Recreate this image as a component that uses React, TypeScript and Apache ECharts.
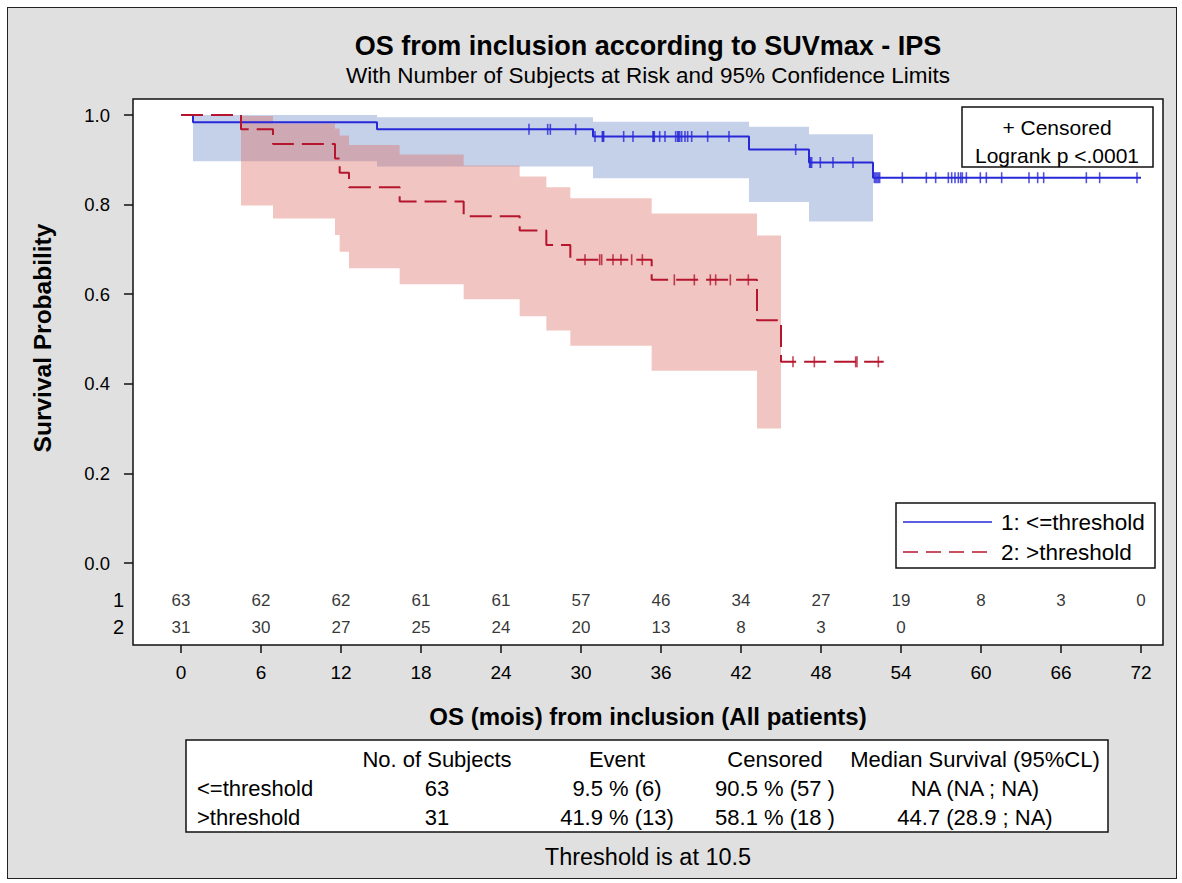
import React, { useEffect, useRef } from 'react';
import * as echarts from 'echarts';

const FONT = "'Liberation Sans', Arial, Helvetica, sans-serif";

// ---- texts ----
const titleText = 'OS from inclusion according to SUVmax - IPS';
const subtitleText = 'With Number of Subjects at Risk and 95% Confidence Limits';
const xAxisTitle = 'OS (mois) from inclusion (All patients)';
const yAxisTitle = 'Survival Probability';
const groupNames = ['1: <=threshold', '2: >threshold'];
const censorLegendText = '+ Censored';
const logrankText = 'Logrank p <.0001';
const footnoteText = 'Threshold is at 10.5';

// ---- axes ----
const xTicks = [0, 6, 12, 18, 24, 30, 36, 42, 48, 54, 60, 66, 72];
const yTicks = [0, 0.2, 0.4, 0.6, 0.8, 1.0];

// ---- group 1 (<= threshold) ----
const g1EventTimes = [0.9, 14.7, 30.9, 42.6, 47.1, 51.9];
const g1Survival = [0.984, 0.968, 0.952, 0.923, 0.894, 0.86];
const g1EndTime = 72.0;
const g1CensorTimes = [
  26.1, 27.5, 27.7, 29.6,
  31.05, 31.6, 31.65, 31.7, 33.2, 33.9, 35.4, 35.45, 35.5, 35.9,
  36.3, 37.1, 37.25, 37.3, 37.4, 37.55, 37.8, 38.0, 38.3, 39.5, 41.1,
  46.1, 47.15, 47.2, 47.3, 47.95,
  48.9, 50.4, 52.0, 52.1, 52.2, 52.3, 52.4,
  54.1, 55.9, 56.6, 57.55, 57.8, 58.05, 58.3, 58.48, 58.6, 58.9, 59.95,
  60.4, 61.55, 63.6, 64.25, 64.7,
  67.9, 68.9, 71.7,
];
const g1BandTimes = [0.9, 14.7, 30.9, 42.6, 47.1, 51.9];
const g1BandLower = [0.897, 0.885, 0.859, 0.806, 0.762];
const g1BandUpper = [1.0, 0.995, 0.985, 0.974, 0.957];

// ---- group 2 (> threshold) ----
const g2EventTimes = [4.5, 6.9, 11.55, 11.9, 12.6, 16.4, 21.2, 25.4, 27.4, 29.2, 35.3, 43.2, 45.0];
const g2Survival = [0.968, 0.935, 0.903, 0.871, 0.839, 0.807, 0.774, 0.742, 0.71, 0.677, 0.632, 0.542, 0.449];
const g2EndTime = 52.7;
const g2CensorTimes = [
  30.3, 31.4, 31.55, 32.4, 33.0, 33.8, 34.6,
  37.0, 38.5, 39.7, 40.1, 41.2, 42.55,
  45.9, 47.5, 50.6, 50.7, 52.3,
];
const g2BandTimes = [4.5, 6.9, 11.55, 11.9, 12.6, 16.4, 21.2, 25.4, 27.4, 29.2, 35.3, 43.2, 45.0];
const g2BandUpper = [0.998, 0.981, 0.97, 0.954, 0.933, 0.912, 0.887, 0.863, 0.839, 0.814, 0.78, 0.731];
const g2BandLower = [0.798, 0.769, 0.732, 0.695, 0.658, 0.622, 0.589, 0.551, 0.519, 0.485, 0.429, 0.3];

// ---- at risk ----
const atRiskRowLabels = ['1', '2'];
const atRisk1 = [63, 62, 62, 61, 61, 57, 46, 34, 27, 19, 8, 3, 0];
const atRisk2 = [31, 30, 27, 25, 24, 20, 13, 8, 3, 0];

// ---- summary table ----
const tableHeader = ['', 'No. of Subjects', 'Event', 'Censored', 'Median Survival (95%CL)'];
const tableRow1 = ['<=threshold', '63', '9.5 % (6)', '90.5 % (57 )', 'NA (NA ; NA)'];
const tableRow2 = ['>threshold', '31', '41.9 % (13)', '58.1 % (18 )', '44.7 (28.9 ; NA)'];

// ---- styles ----
const BLUE = '#2828d8';
const RED = '#b5162e';
const BLUE_BAND = 'rgba(110,140,200,0.4)';
const RED_BAND = 'rgba(220,110,100,0.4)';

// layout constants (pixels)
const GRID_L = 133, GRID_T = 99, GRID_R = 1163, GRID_B = 645;
const PX_PER_MONTH = 80 / 6;
const X0_PX = 181;
const Y1_PX = 115, Y0_PX = 563;
const X_MIN = -(X0_PX - GRID_L) / PX_PER_MONTH;
const X_MAX = (GRID_R - X0_PX) / PX_PER_MONTH;
const PX_PER_UNIT = Y0_PX - Y1_PX;
const Y_MAX = 1 + (Y1_PX - GRID_T) / PX_PER_UNIT;
const Y_MIN = -(GRID_B - Y0_PX) / PX_PER_UNIT;
const ROW1_Y = -(600 - Y0_PX) / PX_PER_UNIT;
const ROW2_Y = -(627 - Y0_PX) / PX_PER_UNIT;

function stepLine(times: number[], surv: number[], end: number) {
  const pts: number[][] = [[0, 1]];
  let s = 1;
  times.forEach((t, i) => {
    pts.push([t, s]);
    s = surv[i];
    pts.push([t, s]);
  });
  pts.push([end, s]);
  return pts;
}

function survAt(times: number[], surv: number[], t: number) {
  let s = 1;
  times.forEach((et, i) => {
    if (et <= t) s = surv[i];
  });
  return s;
}

function bandPolygon(times: number[], lo: number[], hi: number[]) {
  const top: number[][] = [];
  const bot: number[][] = [];
  for (let i = 0; i < lo.length; i++) {
    top.push([times[i], hi[i]], [times[i + 1], hi[i]]);
    bot.push([times[i], lo[i]], [times[i + 1], lo[i]]);
  }
  return top.concat(bot.reverse());
}

function bandSeries(poly: number[][], fill: string, z: number) {
  return {
    type: 'custom',
    silent: true,
    z,
    data: [[poly[0][0], poly[0][1]]],
    renderItem: (_params: any, api: any) => ({
      type: 'polygon',
      shape: { points: poly.map((p) => api.coord(p)) },
      style: { fill, stroke: 'none' },
    }),
  };
}

function txt(text: string, x: number, y: number, font: string, align = 'center', extra: any = {}) {
  return {
    type: 'text',
    x,
    y,
    z: 100,
    silent: true,
    ...extra,
    style: {
      text,
      font,
      fill: '#000',
      textAlign: align,
      textVerticalAlign: 'middle',
      align,
      verticalAlign: 'middle',
    },
  };
}

function riskSeries(data: number[][]) {
  return {
    type: 'scatter',
    data,
    symbolSize: 1,
    itemStyle: { color: 'rgba(0,0,0,0)' },
    silent: true,
    z: 7,
    label: {
      show: true,
      position: 'inside',
      formatter: (p: any) => String(p.value[2]),
      fontFamily: FONT,
      fontSize: 17,
      color: '#000',
    },
  };
}

export default function App() {
  const ref = useRef<HTMLDivElement>(null);

  useEffect(() => {
    if (!ref.current) return;
    const chart = echarts.init(ref.current, undefined, { renderer: 'svg' });

    const g1Line = stepLine(g1EventTimes, g1Survival, g1EndTime);
    const g2Line = stepLine(g2EventTimes, g2Survival, g2EndTime);
    const g1Cens = g1CensorTimes.map((t) => [t, survAt(g1EventTimes, g1Survival, t)]);
    const g2Cens = g2CensorTimes.map((t) => [t, survAt(g2EventTimes, g2Survival, t)]);
    const g1Poly = bandPolygon(g1BandTimes, g1BandLower, g1BandUpper);
    const g2Poly = bandPolygon(g2BandTimes, g2BandLower, g2BandUpper);
    const risk1 = atRisk1.map((n, i) => [xTicks[i], ROW1_Y, n]);
    const risk2 = atRisk2.map((n, i) => [xTicks[i], ROW2_Y, n]);

    const colX = [197, 437, 617, 775, 975];
    const rowY = [759, 788, 817];
    const tableRows = [tableHeader, tableRow1, tableRow2];
    const tableTexts: any[] = [];
    tableRows.forEach((row, r) => {
      row.forEach((cell, c) => {
        if (!cell) return;
        tableTexts.push(txt(cell, colX[c], rowY[r], `22px ${FONT}`, c === 0 ? 'left' : 'center'));
      });
    });

    const option: any = {
      animation: false,
      grid: {
        left: GRID_L,
        top: GRID_T,
        width: GRID_R - GRID_L,
        height: GRID_B - GRID_T,
        show: true,
        backgroundColor: '#fff',
        borderColor: '#111',
        borderWidth: 1.5,
      },
      xAxis: {
        type: 'value',
        min: X_MIN,
        max: X_MAX,
        axisLine: { show: false, onZero: false },
        splitLine: { show: false },
        axisTick: {
          show: true,
          customValues: xTicks,
          length: 8,
          lineStyle: { color: '#111', width: 1.5 },
        },
        axisLabel: {
          customValues: xTicks,
          fontFamily: FONT,
          fontSize: 19,
          color: '#000',
          margin: 18,
        },
      },
      yAxis: [
        {
          type: 'value',
          min: Y_MIN,
          max: Y_MAX,
          axisLine: { show: false, onZero: false },
          splitLine: { show: false },
          axisTick: {
            show: true,
            customValues: yTicks,
            length: 9,
            lineStyle: { color: '#111', width: 1.5 },
          },
          axisLabel: {
            customValues: yTicks,
            formatter: (v: number) => v.toFixed(1),
            fontFamily: FONT,
            fontSize: 18.5,
            color: '#000',
            margin: 23,
          },
        },
        {
          type: 'value',
          position: 'left',
          min: Y_MIN,
          max: Y_MAX,
          axisLine: { show: false, onZero: false },
          splitLine: { show: false },
          axisTick: { show: false },
          axisLabel: {
            customValues: [ROW1_Y, ROW2_Y],
            formatter: (v: number) => (Math.abs(v - ROW1_Y) < 0.01 ? atRiskRowLabels[0] : atRiskRowLabels[1]),
            fontFamily: FONT,
            fontSize: 20,
            color: '#000',
            margin: 9,
          },
        },
      ],
      series: [
        bandSeries(g1Poly, BLUE_BAND, 1),
        bandSeries(g2Poly, RED_BAND, 2),
        {
          type: 'line',
          data: g1Line,
          symbol: 'none',
          z: 5,
          lineStyle: { color: BLUE, width: 2 },
          silent: true,
        },
        {
          type: 'line',
          data: g2Line,
          symbol: 'none',
          z: 5,
          lineStyle: { color: RED, width: 2, type: [22, 8] },
          silent: true,
        },
        {
          type: 'scatter',
          data: g1Cens,
          symbol: 'rect',
          symbolSize: [1.6, 11],
          itemStyle: { color: BLUE },
          z: 6,
          silent: true,
        },
        {
          type: 'scatter',
          data: g2Cens,
          symbol: 'rect',
          symbolSize: [1.6, 11],
          itemStyle: { color: RED },
          z: 6,
          silent: true,
        },
        riskSeries(risk1),
        riskSeries(risk2),
      ],
      graphic: [
        txt(titleText, 648, 46, `bold 27px ${FONT}`),
        txt(subtitleText, 648, 75, `22.5px ${FONT}`),
        txt(xAxisTitle, 648, 716, `bold 24px ${FONT}`),
        txt(yAxisTitle, 42, 338, `bold 24.5px ${FONT}`, 'center', { rotation: Math.PI / 2 }),
        // censored / logrank box
        {
          type: 'rect',
          z: 100,
          silent: true,
          shape: { x: 962, y: 107, width: 191, height: 60 },
          style: { fill: '#fff', stroke: '#111', lineWidth: 1.5 },
        },
        txt(censorLegendText, 1057, 127, `21px ${FONT}`),
        txt(logrankText, 1057, 155, `21px ${FONT}`),
        // legend box
        {
          type: 'rect',
          z: 100,
          silent: true,
          shape: { x: 896, y: 503, width: 259, height: 65 },
          style: { fill: '#fff', stroke: '#111', lineWidth: 1.5 },
        },
        {
          type: 'line',
          z: 101,
          silent: true,
          shape: { x1: 903, y1: 522, x2: 992, y2: 522 },
          style: { stroke: BLUE, lineWidth: 1.5 },
        },
        {
          type: 'line',
          z: 101,
          silent: true,
          shape: { x1: 903, y1: 552, x2: 992, y2: 552 },
          style: { stroke: RED, lineWidth: 1.5, lineDash: [15, 8] },
        },
        txt(groupNames[0], 1001, 522, `22.5px ${FONT}`, 'left'),
        txt(groupNames[1], 1001, 552, `22.5px ${FONT}`, 'left'),
        // summary table
        {
          type: 'rect',
          z: 100,
          silent: true,
          shape: { x: 186, y: 740, width: 922, height: 92 },
          style: { fill: '#fff', stroke: '#111', lineWidth: 1.5 },
        },
        ...tableTexts,
        txt(footnoteText, 648, 857, `23.5px ${FONT}`),
      ],
    };

    chart.setOption(option);
    return () => chart.dispose();
  }, []);

  return (
    <div style={{ position: 'absolute', left: 0, top: 0, width: 1182, height: 883, background: '#fff' }}>
      <div
        style={{
          position: 'absolute',
          left: 7,
          top: 7,
          width: 1170,
          height: 872,
          background: '#e0e0e0',
          border: '1.5px solid #222',
          boxSizing: 'border-box',
        }}
      />
      <div ref={ref} style={{ position: 'absolute', left: 0, top: 0, width: 1182, height: 883 }} />
    </div>
  );
}
